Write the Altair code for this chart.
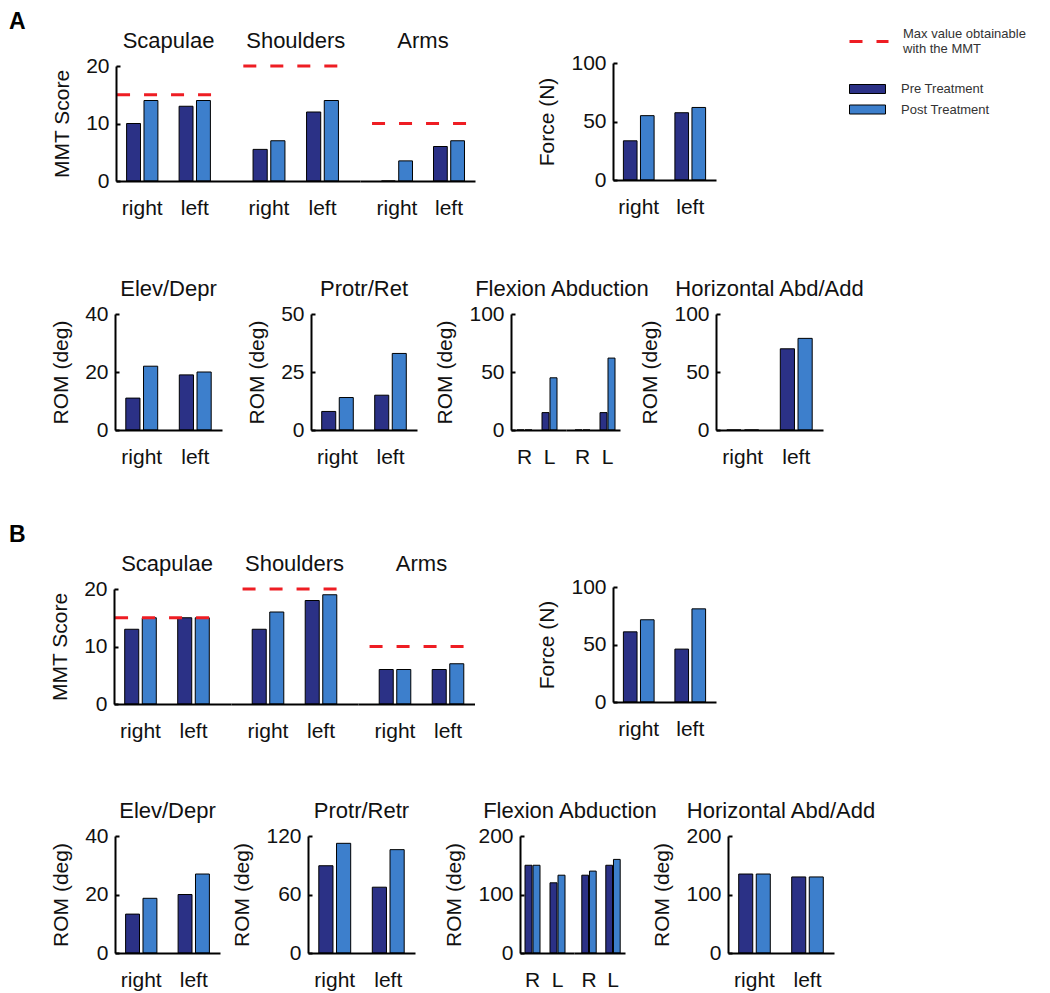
import altair as alt
import pandas as pd

# ---------------- data ----------------
treatments = ["Pre Treatment", "Post Treatment"]
sides = ["right", "left"]
sides_short = ["R", "L"]
max_label = "Max value obtainable with the MMT"
mmt_groups = ["Scapulae", "Shoulders", "Arms"]
mmt_max = [15, 20, 10]
rom_titles_a = ["Elev/Depr", "Protr/Ret", "Flexion Abduction", "Horizontal Abd/Add"]
rom_titles_b = ["Elev/Depr", "Protr/Retr", "Flexion Abduction", "Horizontal Abd/Add"]
panel_letters = ["A", "B"]

# Panel A
a_mmt_pre = [[10, 13], [5.5, 12], [0, 6]]
a_mmt_post = [[14, 14], [7, 14], [3.5, 7]]
a_force_pre = [33.5, 57.5]
a_force_post = [55, 62]
a_elev_pre = [11, 19]
a_elev_post = [22, 20]
a_protr_pre = [8, 15]
a_protr_post = [14, 33]
a_flex_pre = [0, 15]
a_flex_post = [0, 45]
a_abd_pre = [0, 15]
a_abd_post = [0, 62]
a_horiz_pre = [0, 70]
a_horiz_post = [0, 79]

# Panel B
b_mmt_pre = [[13, 15], [13, 18], [6, 6]]
b_mmt_post = [[15, 15], [16, 19], [6, 7]]
b_force_pre = [61, 46]
b_force_post = [71.5, 81]
b_elev_pre = [13.3, 20]
b_elev_post = [18.7, 27]
b_protr_pre = [89.5, 67.5]
b_protr_post = [112.5, 106]
b_flex_pre = [150, 120]
b_flex_post = [150, 133]
b_abd_pre = [133, 150]
b_abd_post = [140, 160]
b_horiz_pre = [135, 130]
b_horiz_post = [135, 130]

# tick labels
mmt_ticks = [0, 10, 20]
force_ticks = [0, 50, 100]
elev_ticks = [0, 20, 40]
a_protr_ticks = [0, 25, 50]
b_protr_ticks = [0, 60, 120]
a_rom_ticks = [0, 50, 100]
b_rom_ticks = [0, 100, 200]

# ---------------- style / layout ----------------
OFF = 8
W, H = 1034, 985
FONT = "Liberation Sans"
PRE_C, POST_C, RED = "#2b3186", "#3d7fcc", "#ee1d23"
TXT = "#111111"


def px(v):
    return v - OFF


color_scale = alt.Scale(domain=treatments, range=[PRE_C, POST_C])
color_legend = alt.Legend(
    orient="none", legendX=px(858), legendY=px(79.5), title=None,
    symbolType="M-2,-0.5H2V0.5H-2Z", symbolSize=324,
    symbolStrokeColor="black", symbolStrokeWidth=1, symbolOpacity=1,
    labelFontSize=13, labelFont=FONT, labelColor="#333333",
    labelOffset=24, rowPadding=3.5, padding=0,
)
dash_legend = alt.Legend(
    orient="none", legendX=px(848), legendY=px(13), title=None,
    symbolType="M-1,0.38L1,0.38", symbolSize=1521, symbolStrokeColor=RED,
    symbolStrokeWidth=3,
    labelExpr="['Max value obtainable', 'with the MMT']",
    labelFontSize=13, labelFont=FONT, labelColor="#333333",
    labelOffset=13, padding=0,
)


def make_panel(cats, pre, post, xr, b0, step, yr, ydom, yticks=None, ytitle=None,
               title=None, title_cat=0, maxv=None, inner=(0.2, 0.61)):
    r0, r1 = px(xr[0]), px(xr[1])
    bs = px(b0)
    n = len(cats)
    outer = (r1 - r0) - n * step
    po = max(outer, 0) / (2 * step)
    align = (bs - r0) / outer if outer > 0.01 else 0.5
    align = min(max(align, 0), 1)
    xs = alt.Scale(type="band", domain=cats, range=[r0, r1],
                   paddingInner=0, paddingOuter=po, align=align)
    ybot, ytop = px(yr[0]), px(yr[1])
    ys = alt.Scale(domain=ydom, range=[ybot, ytop], nice=False, zero=True)

    df = pd.DataFrame({
        "cat": list(cats) * 2,
        "treat": [treatments[0]] * n + [treatments[1]] * n,
        "value": list(pre) + list(post),
    })
    xaxis = alt.Axis(orient="bottom", offset=ybot - H, title=None, ticks=False,
                     tickSize=0, labelPadding=16, labelFontSize=21, labelAngle=0,
                     domainWidth=2, domainColor="black", labelColor=TXT, zindex=2)
    if yticks is not None:
        yaxis = alt.Axis(orient="left", offset=-r0, values=yticks, title=ytitle,
                         ticks=False, tickSize=0, labelPadding=7, labelFontSize=21,
                         titleFontSize=21, titlePadding=13, titleFontWeight="normal",
                         domainWidth=2, domainColor="black", labelColor=TXT,
                         titleColor=TXT, grid=False, zindex=2)
    else:
        yaxis = None

    bars = alt.Chart(df).mark_bar(stroke="black", strokeWidth=1, opacity=1).encode(
        x=alt.X("cat:N", scale=xs, axis=xaxis, sort=cats),
        xOffset=alt.XOffset("treat:N", sort=treatments,
                            scale=alt.Scale(domain=treatments, paddingInner=inner[0],
                                            paddingOuter=inner[1])),
        y=alt.Y("value:Q", scale=ys, axis=yaxis),
        color=alt.Color("treat:N", scale=color_scale, legend=color_legend, sort=treatments),
    )
    layers = [bars]

    if yticks is not None:
        tick_axis = alt.Axis(orient="right", offset=r0 - W, values=yticks, labels=False,
                             domain=False, ticks=True, tickSize=4, tickWidth=2,
                             tickColor="black", title=None, grid=False, zindex=2)
        ticks_layer = alt.Chart(pd.DataFrame({"v": [ydom[0]]})).mark_point(opacity=0).encode(
            y=alt.Y("v:Q", axis=tick_axis),
        )
        layers.append(ticks_layer)

    if maxv is not None:
        rdf = pd.DataFrame({"lab": [max_label], "m": [maxv]})
        rule = alt.Chart(rdf).mark_rule(color=RED, strokeWidth=3).encode(
            x=alt.XDatum(cats[0], bandPosition=0.02),
            x2=alt.X2Datum(cats[1], bandPosition=0.86),
            y=alt.Y("m:Q", axis=None),
            strokeDash=alt.StrokeDash("lab:N", scale=alt.Scale(domain=[max_label], range=[[13, 14]]),
                                      legend=dash_legend),
        )
        layers.append(rule)

    if title is not None:
        tdf = pd.DataFrame({"t": [title]})
        tl = alt.Chart(tdf).mark_text(fontSize=22, font=FONT, dy=-25, baseline="middle",
                                      align="center", color=TXT).encode(
            x=alt.XDatum(cats[title_cat], bandPosition=1),
            y=alt.YDatum(ydom[1], axis=None),
            text="t:N",
        )
        layers.append(tl)

    return alt.layer(*layers).resolve_axis(y="independent")


flex_inner = (0.125, 0.625)

panels = []
# ---------- A ----------
a_mmt_x = [((116, 231.5), 116, 52.5), ((231.5, 360), 242.25, 53.5), ((360, 475), 371, 52)]
for i, g in enumerate(mmt_groups):
    xr, b0, st = a_mmt_x[i]
    panels.append(make_panel(sides, a_mmt_pre[i], a_mmt_post[i], xr, b0, st, (181, 66), [0, 20],
                             yticks=mmt_ticks if i == 0 else None,
                             ytitle="MMT Score" if i == 0 else None,
                             title=g, maxv=mmt_max[i]))
panels.append(make_panel(sides, a_force_pre, a_force_post, (613, 716), 613, 51.5, (180, 63), [0, 100],
                         yticks=force_ticks, ytitle="Force (N)"))
panels.append(make_panel(sides, a_elev_pre, a_elev_post, (115, 222), 115, 53.5, (430, 314), [0, 40],
                         yticks=elev_ticks, ytitle="ROM (deg)", title=rom_titles_a[0]))
panels.append(make_panel(sides, a_protr_pre, a_protr_post, (311, 417), 311, 53, (430, 314), [0, 50],
                         yticks=a_protr_ticks, ytitle="ROM (deg)", title=rom_titles_a[1]))
panels.append(make_panel(sides_short, a_flex_pre, a_flex_post, (511, 566), 512, 25, (430, 314), [0, 100],
                         yticks=a_rom_ticks, ytitle="ROM (deg)", title=rom_titles_a[2], title_cat=1,
                         inner=flex_inner))
panels.append(make_panel(sides_short, a_abd_pre, a_abd_post, (566, 620), 570, 25, (430, 314), [0, 100],
                         inner=flex_inner))
panels.append(make_panel(sides, a_horiz_pre, a_horiz_post, (716, 823), 716, 53.5, (430, 314), [0, 100],
                         yticks=a_rom_ticks, ytitle="ROM (deg)", title=rom_titles_a[3]))

# ---------- B ----------
b_mmt_x = [((114, 231), 114, 53), ((231, 358), 241.5, 53), ((358, 474.5), 368.5, 53)]
for i, g in enumerate(mmt_groups):
    xr, b0, st = b_mmt_x[i]
    panels.append(make_panel(sides, b_mmt_pre[i], b_mmt_post[i], xr, b0, st, (704, 589), [0, 20],
                             yticks=mmt_ticks if i == 0 else None,
                             ytitle="MMT Score" if i == 0 else None,
                             title=g, maxv=mmt_max[i]))
panels.append(make_panel(sides, b_force_pre, b_force_post, (613, 716), 613, 51.5, (702, 587), [0, 100],
                         yticks=force_ticks, ytitle="Force (N)"))
panels.append(make_panel(sides, b_elev_pre, b_elev_post, (115, 220), 115, 52.5, (953, 836), [0, 40],
                         yticks=elev_ticks, ytitle="ROM (deg)", title=rom_titles_b[0]))
panels.append(make_panel(sides, b_protr_pre, b_protr_post, (308, 415), 308, 53.5, (953, 836), [0, 120],
                         yticks=b_protr_ticks, ytitle="ROM (deg)", title=rom_titles_b[1]))
panels.append(make_panel(sides_short, b_flex_pre, b_flex_post, (520, 574), 520, 25, (953, 836), [0, 200],
                         yticks=b_rom_ticks, ytitle="ROM (deg)", title=rom_titles_b[2], title_cat=1,
                         inner=flex_inner))
panels.append(make_panel(sides_short, b_abd_pre, b_abd_post, (574, 625), 577, 24, (953, 836), [0, 200],
                         inner=flex_inner))
panels.append(make_panel(sides, b_horiz_pre, b_horiz_post, (728, 834), 728, 53, (953, 836), [0, 200],
                         yticks=b_rom_ticks, ytitle="ROM (deg)", title=rom_titles_b[3]))

# panel letters
letter_y = [14, 527]
letters = [
    alt.Chart(pd.DataFrame({"t": [L]})).mark_text(
        fontSize=23, fontWeight="bold", font=FONT, align="left", baseline="middle", color="black"
    ).encode(text="t:N", x=alt.value(1), y=alt.value(yv))
    for L, yv in zip(panel_letters, letter_y)
]

chart = alt.layer(*panels, *letters).resolve_scale(
    x="independent", y="independent", xOffset="independent"
).properties(
    width=W, height=H, padding=0,
    autosize=alt.AutoSizeParams(type="none"), background="white",
).configure(font=FONT).configure_view(stroke=None).configure_axis(
    labelFont=FONT, titleFont=FONT, grid=False
)

chart.save("out.html", embed_options={"renderer": "svg", "actions": False})
